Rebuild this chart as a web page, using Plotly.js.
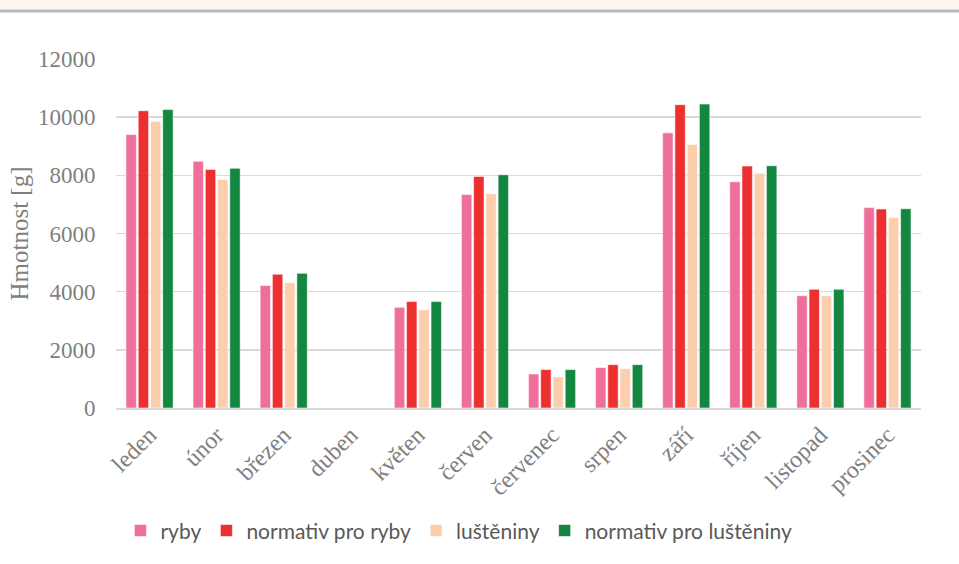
<!DOCTYPE html>
<html>
<head>
<meta charset="utf-8">
<script src="https://cdn.plot.ly/plotly-3.0.1.min.js"></script>
<style>html,body{margin:0;padding:0;background:#fff;}#chart{width:959px;height:564px;}</style>
</head>
<body>
<div id="chart"></div>
<script>
const months = ["leden","únor","březen","duben","květen","červen","červenec","srpen","září","říjen","listopad","prosinec"];
const ryby = [9400, 8480, 4210, 0, 3460, 7340, 1170, 1390, 9460, 7780, 3860, 6890];
const normativRyby = [10220, 8200, 4600, 0, 3660, 7960, 1320, 1490, 10430, 8320, 4080, 6840];
const lusteniny = [9850, 7860, 4310, 0, 3380, 7370, 1070, 1350, 9060, 8070, 3860, 6550];
const normativLusteniny = [10260, 8240, 4630, 0, 3660, 8020, 1320, 1490, 10450, 8330, 4080, 6850];
const seriesNames = ["ryby", "normativ pro ryby", "luštěniny", "normativ pro luštěniny"];
const colors = ["#F06E9A", "#EE2F2F", "#FBCFAD", "#138640"];
const yTicks = [0, 2000, 4000, 6000, 8000, 10000, 12000];

const serif = "Liberation Serif";
const allSeries = [ryby, normativRyby, lusteniny, normativLusteniny];
const traces = allSeries.map((vals, i) => ({
  type: "bar",
  name: seriesNames[i],
  x: months,
  y: vals,
  marker: {color: colors[i], line: {color: "rgba(255,255,255,0.55)", width: 1}},
  hoverinfo: "x+y+name"
}));

const layout = {
  width: 959, height: 564,
  font: {family: serif, size: 21, color: "#7F7F7F"},
  margin: {l: 116, r: 38, t: 59, b: 156},
  paper_bgcolor: "#ffffff",
  plot_bgcolor: "#ffffff",
  barmode: "group",
  bargap: 0.27,
  bargroupgap: 0.15,
  showlegend: true,
  legend: {
    orientation: "h",
    x: 0.426, xanchor: "center",
    y: -0.352, yanchor: "middle",
    font: {family: "Lato", size: 21, color: "#595959"},
    itemwidth: 30,
    traceorder: "normal"
  },
  xaxis: {
    type: "category",
    tickangle: -45,
    tickfont: {family: serif, size: 24, color: "#7F7F7F"},
    showgrid: false,
    showline: true, linecolor: "#D9D9D9", linewidth: 1.5,
    ticks: "outside", ticklen: 2, tickcolor: "rgba(0,0,0,0)",
    automargin: false
  },
  yaxis: {
    range: [0, 12000],
    tickvals: yTicks,
    ticktext: yTicks.map(String),
    tickfont: {family: serif, size: 23, color: "#7F7F7F"},
    showgrid: true, gridcolor: "#D9D9D9", gridwidth: 1.5,
    zeroline: false,
    showline: false,
    ticks: "outside", ticklen: 15, tickcolor: "rgba(0,0,0,0)",
    title: {text: "Hmotnost [g]", font: {family: serif, size: 25, color: "#7F7F7F"}, standoff: 2},
    automargin: false
  },
  shapes: [
    {type: "rect", xref: "paper", yref: "paper", x0: -0.2, x1: 1.1, y0: (408 - 9) / 349, y1: 1.25,
     fillcolor: "#FDF3F0", line: {width: 0}, layer: "below"},
    {type: "line", xref: "paper", yref: "paper", x0: -0.2, x1: 1.1, y0: (408 - 11) / 349, y1: (408 - 11) / 349,
     line: {color: "#AFBEBE", width: 3}}
  ]
};

Plotly.newPlot("chart", traces, layout, {displayModeBar: false, staticPlot: true});
</script>
</body>
</html>
